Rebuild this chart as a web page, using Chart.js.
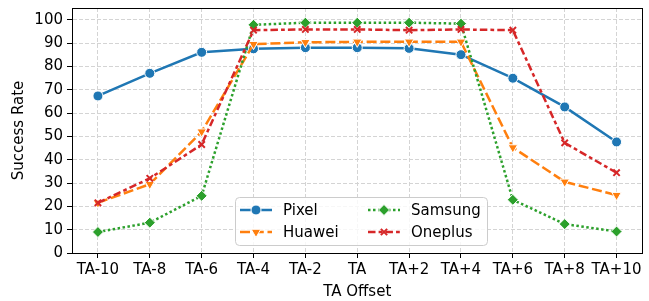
<!DOCTYPE html>
<html>
<head>
<meta charset="utf-8">
<script src="https://cdn.jsdelivr.net/npm/chart.js@4.4.0/dist/chart.umd.min.js"></script>
<style>
  html, body { margin: 0; padding: 0; background: #fff; }
  #chart { display: block; }
</style>
</head>
<body>
<canvas id="chart" width="649" height="301"></canvas>
<script>
/* Data */
const offsets = ["TA-10", "TA-8", "TA-6", "TA-4", "TA-2", "TA", "TA+2", "TA+4", "TA+6", "TA+8", "TA+10"];
const pixel = [67.3, 77, 86, 87.5, 88, 88, 87.7, 85, 74.9, 62.6, 47.6];
const huawei = [21.5, 29.5, 52, 89.5, 90.3, 90.5, 90.5, 90.5, 45.2, 30.5, 24.8];
const samsung = [9, 13, 24.5, 97.8, 98.7, 98.7, 98.7, 98.3, 22.8, 12.4, 9.2];
const oneplus = [21.5, 32, 46.5, 95.5, 95.8, 95.8, 95.5, 95.8, 95.5, 47.2, 34.4];
const yTicks = [0, 10, 20, 30, 40, 50, 60, 70, 80, 90, 100];

const BLUE = '#1f77b4';
const ORANGE = '#ff7f0e';
const GREEN = '#2ca02c';
const RED = '#d62728';

Chart.defaults.font.family = "'DejaVu Sans', sans-serif";
Chart.defaults.font.size = 15;
Chart.defaults.color = '#000';

/* series styles, shared by chart and legend */
const series = [
    { label: 'Pixel', data: pixel, color: BLUE, dash: [], marker: 'circle', radius: 5, rot: 0 },
    { label: 'Huawei', data: huawei, color: ORANGE, dash: [10, 3.75], marker: 'triangle', radius: 5.5, rot: 180 },
    { label: 'Samsung', data: samsung, color: GREEN, dash: [2.5, 2.5], marker: 'rectRot', radius: 5.5, rot: 0 },
    { label: 'Oneplus', data: oneplus, color: RED, dash: [7.5, 3.1, 3.75, 3.1], marker: 'crossRot', radius: 4.5, rot: 0 }
];

// draw a legend marker by hand
function drawMarker(ctx, s, x, y) {
    ctx.save();
    ctx.setLineDash([]);
    ctx.fillStyle = s.color;
    ctx.strokeStyle = '#fff';
    ctx.lineWidth = 1;
    const r = s.radius;
    ctx.beginPath();
    if (s.marker === 'circle') {
        ctx.arc(x, y, r, 0, Math.PI * 2);
        ctx.fill(); ctx.stroke();
    } else if (s.marker === 'triangle') {
        ctx.moveTo(x - r * 0.87, y - r * 0.5);
        ctx.lineTo(x + r * 0.87, y - r * 0.5);
        ctx.lineTo(x, y + r);
        ctx.closePath();
        ctx.fill(); ctx.stroke();
    } else if (s.marker === 'rectRot') {
        ctx.moveTo(x, y - r);
        ctx.lineTo(x + r, y);
        ctx.lineTo(x, y + r);
        ctx.lineTo(x - r, y);
        ctx.closePath();
        ctx.fill(); ctx.stroke();
    } else {
        ctx.strokeStyle = s.color;
        ctx.lineWidth = 2;
        const d = r * 0.7;
        ctx.moveTo(x - d, y - d); ctx.lineTo(x + d, y + d);
        ctx.moveTo(x + d, y - d); ctx.lineTo(x - d, y + d);
        ctx.stroke();
    }
    ctx.restore();
}

const frameAndLegend = {
    id: 'frameAndLegend',
    afterDatasetsDraw(chart) {
        const { ctx, chartArea: a } = chart;
        ctx.save();
        ctx.strokeStyle = '#000';
        ctx.lineWidth = 1;
        ctx.strokeRect(Math.round(a.left) + 0.5, Math.round(a.top) + 0.5,
            Math.round(a.right - a.left) - 1, Math.round(a.bottom - a.top));
        ctx.restore();
    },
    afterDraw(chart) {
        const ctx = chart.ctx;
        ctx.save();
        // legend box
        const bx = 235.5, by = 197.5, bw = 252, bh = 48, rr = 4;
        ctx.beginPath();
        ctx.roundRect(bx, by, bw, bh, rr);
        ctx.fillStyle = 'rgba(255,255,255,0.8)';
        ctx.fill();
        ctx.strokeStyle = '#cccccc';
        ctx.lineWidth = 1;
        ctx.stroke();
        const cols = [240, 368];
        const rows = [210, 232];
        ctx.font = "15px 'DejaVu Sans'";
        ctx.textBaseline = 'middle';
        ctx.fillStyle = '#000';
        series.forEach((s, i) => {
            const x0 = cols[Math.floor(i / 2)];
            const y0 = rows[i % 2];
            ctx.save();
            ctx.strokeStyle = s.color;
            ctx.lineWidth = 2.5;
            ctx.setLineDash(s.dash);
            ctx.beginPath();
            ctx.moveTo(x0, y0);
            ctx.lineTo(x0 + 32, y0);
            ctx.stroke();
            ctx.restore();
            drawMarker(ctx, s, x0 + 16, y0);
            ctx.fillStyle = '#000';
            ctx.fillText(s.label, x0 + 43, y0 + 1);
        });
        ctx.restore();
    }
};

const datasets = series.map((s, i) => ({
    label: s.label,
    data: s.data,
    borderColor: s.color,
    backgroundColor: s.color,
    borderWidth: 2.5,
    borderDash: s.dash,
    tension: 0,
    fill: false,
    pointStyle: s.marker,
    pointRadius: s.radius,
    pointRotation: s.rot,
    pointBorderColor: s.marker === 'crossRot' ? s.color : '#fff',
    pointBorderWidth: s.marker === 'crossRot' ? 2 : 1,
    pointBackgroundColor: s.color,
    order: series.length - i
}));

const config = {
    type: 'line',
    data: { labels: offsets, datasets: datasets },
    options: {
        responsive: false,
        animation: false,
        devicePixelRatio: 1,
        layout: { padding: { top: 8, right: 1, left: 0, bottom: 0 } },
        plugins: {
            legend: { display: false },
            tooltip: { enabled: false }
        },
        scales: {
            x: {
                offset: true,
                grid: {
                    offset: false,
                    color: '#d4d4d4',
                    lineWidth: 1,
                    tickLength: 5,
                    tickColor: '#000',
                    tickBorderDash: []
                },
                border: { display: true, color: '#000', dash: [4, 2] },
                ticks: { padding: 3, maxRotation: 0, autoSkip: false, color: '#000' },
                title: { display: true, text: 'TA Offset', padding: { top: 0, bottom: 0 } },
                afterFit(scale) {
                    scale.height = 48;
                    scale.paddingLeft = 0;
                    scale.paddingRight = 0;
                }
            },
            y: {
                min: 0,
                max: 105,
                grid: {
                    color: '#d4d4d4',
                    lineWidth: 1,
                    tickLength: 5,
                    tickColor: '#000',
                    tickBorderDash: []
                },
                border: { display: true, color: '#000', dash: [4, 2] },
                ticks: { stepSize: 10, padding: 4, color: '#000' },
                afterBuildTicks(scale) {
                    scale.ticks = yTicks.map(v => ({ value: v }));
                },
                title: { display: true, text: 'Success Rate', padding: { top: 10, bottom: 4 } },
                afterFit(scale) {
                    scale.width = 72;
                    scale.paddingTop = 0;
                    scale.paddingBottom = 0;
                }
            }
        }
    },
    plugins: [frameAndLegend]
};

const chart = new Chart(document.getElementById('chart'), config);
</script>
</body>
</html>
